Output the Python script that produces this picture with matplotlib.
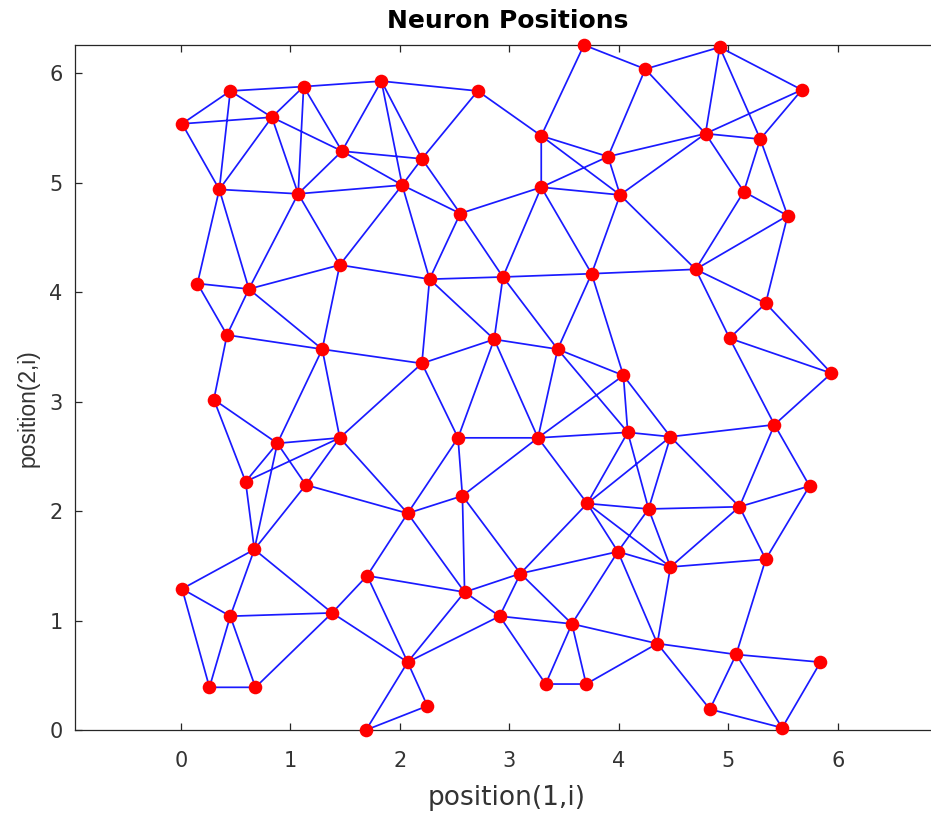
import matplotlib
matplotlib.use("Agg")
import matplotlib.pyplot as plt
import numpy as np

plt.rcParams['font.family'] = ['DejaVu Sans']

# neuron positions (position(1,i), position(2,i))
pos_x = [0.01, 0.45, 1.12, 1.83, 2.71, 0.83, 1.47, 2.20, 0.35, 1.07,
         2.02, 2.55, 3.29, 3.68, 4.24, 4.92, 5.67, 3.90, 4.79, 5.29,
         3.29, 4.01, 5.14, 5.54, 0.15, 0.62, 1.45, 2.27, 2.94, 3.75,
         4.70, 5.34, 5.01, 5.94, 0.42, 1.29, 2.20, 2.86, 3.44, 4.04,
         0.30, 0.88, 1.45, 2.53, 3.26, 4.08, 4.47, 5.42, 0.59, 1.14,
         2.07, 2.57, 3.71, 4.27, 5.10, 5.74, 0.67, 0.01, 0.45, 1.38,
         1.70, 2.59, 3.10, 3.99, 4.47, 5.34, 2.91, 3.57, 4.35, 0.26,
         0.68, 2.07, 2.25, 1.69, 3.33, 3.70, 5.07, 5.84, 4.83, 5.49]
pos_y = [5.54, 5.84, 5.88, 5.93, 5.84, 5.60, 5.29, 5.22, 4.94, 4.90,
         4.98, 4.72, 5.43, 6.26, 6.04, 6.24, 5.85, 5.24, 5.45, 5.40,
         4.96, 4.89, 4.92, 4.70, 4.08, 4.03, 4.25, 4.12, 4.14, 4.17,
         4.21, 3.90, 3.58, 3.26, 3.61, 3.48, 3.35, 3.57, 3.48, 3.24,
         3.02, 2.62, 2.67, 2.67, 2.67, 2.72, 2.68, 2.79, 2.27, 2.24,
         1.98, 2.14, 2.07, 2.02, 2.04, 2.23, 1.65, 1.29, 1.04, 1.07,
         1.41, 1.26, 1.43, 1.63, 1.49, 1.56, 1.04, 0.97, 0.79, 0.39,
         0.39, 0.62, 0.22, 0.00, 0.42, 0.42, 0.69, 0.62, 0.19, 0.02]

# links between neurons (1-based neuron indices)
links_a = [1, 1, 1, 2, 2, 2, 3, 3, 3, 3, 4, 4, 4, 4, 5, 5, 6, 6, 6, 7, 7, 7,
           8, 8, 9, 9, 9, 10, 10, 10, 11, 11, 11, 12, 12, 12, 13, 13, 13, 13,
           14, 15, 15, 15, 16, 16, 16, 17, 17, 18, 18, 18, 19, 19, 19, 20, 20,
           21, 21, 21, 22, 22, 23, 23, 24, 24, 25, 25, 26, 26, 26, 27, 27,
           28, 28, 28, 29, 29, 29, 30, 30, 30, 31, 31, 32, 32, 33, 33, 34,
           35, 35, 36, 36, 36, 37, 37, 37, 38, 38, 38, 39, 39, 39, 40, 40, 40,
           41, 41, 42, 42, 42, 42, 43, 43, 43, 44, 44, 44, 45, 45, 45, 46, 46, 46,
           47, 47, 47, 47, 48, 48, 49, 50, 50, 51, 51, 51, 52, 52,
           53, 53, 53, 53, 54, 54, 54, 55, 55, 55, 56, 57, 57, 57, 58, 58,
           59, 59, 59, 60, 60, 60, 61, 61, 62, 62, 62, 63, 63, 63, 64, 64, 64,
           65, 65, 66, 67, 67, 67, 68, 68, 68, 69, 69, 69, 70, 72, 72, 73, 75,
           77, 77, 77, 78, 79]
links_b = [2, 6, 9, 3, 6, 9, 4, 6, 7, 10, 5, 7, 8, 11, 8, 13, 7, 9, 10, 8, 10, 11,
           11, 12, 10, 25, 26, 11, 26, 27, 12, 27, 28, 21, 28, 29, 14, 18, 21, 22,
           15, 16, 18, 19, 17, 19, 20, 19, 20, 19, 21, 22, 20, 22, 23, 23, 24,
           22, 29, 30, 30, 31, 24, 31, 31, 32, 26, 35, 27, 35, 36, 28, 36,
           29, 37, 38, 30, 38, 39, 31, 39, 40, 32, 33, 33, 34, 34, 48, 48,
           36, 41, 37, 42, 43, 38, 43, 44, 39, 44, 45, 40, 45, 46, 45, 46, 47,
           42, 49, 43, 49, 50, 57, 49, 50, 51, 45, 51, 52, 46, 52, 53, 47, 53, 54,
           48, 53, 54, 55, 55, 56, 57, 51, 57, 52, 61, 62, 62, 63,
           54, 63, 64, 65, 55, 64, 65, 56, 65, 66, 66, 58, 59, 60, 59, 70,
           60, 70, 71, 61, 71, 72, 62, 72, 63, 67, 72, 64, 67, 68, 65, 68, 69,
           66, 69, 77, 68, 72, 75, 69, 75, 76, 76, 77, 79, 71, 73, 74, 74, 76,
           78, 79, 80, 80, 80]

title_text = "Neuron Positions"
xlabel_text = "position(1,i)"
ylabel_text = "position(2,i)"
xticks = [0, 1, 2, 3, 4, 5, 6]
yticks = [0, 1, 2, 3, 4, 5, 6]

W, H = 931, 815
fig = plt.figure(figsize=(W / 100, H / 100), dpi=100)

px_per_unit = 109.5
left_px, top_px, bottom_px = 75, 45, 730
x0 = -0.968
x1 = x0 + (W + 10 - left_px) / px_per_unit
y0, y1 = min(pos_y), max(pos_y)
ax_w = (x1 - x0) * px_per_unit
ax_h = bottom_px - top_px
ax = fig.add_axes([left_px / W, (H - bottom_px) / H, ax_w / W, ax_h / H])

px = np.array(pos_x)
py = np.array(pos_y)
a = np.array(links_a) - 1
b = np.array(links_b) - 1
lx = np.column_stack([px[a], px[b], np.full(len(a), np.nan)]).ravel()
ly = np.column_stack([py[a], py[b], np.full(len(a), np.nan)]).ravel()
ax.plot(lx, ly, color=(0.1, 0.1, 1.0), lw=1.25, solid_capstyle='round', zorder=2)
ax.plot(px, py, 'o', color=(1, 0, 0), markersize=9.8, markeredgewidth=0,
        zorder=3, clip_on=False)

ax.set_xlim(x0, x1)
ax.set_ylim(y0, y1)
ax.set_xticks(xticks)
ax.set_yticks(yticks)
axis_col = (0.15, 0.15, 0.15)
lab_col = (0.2, 0.2, 0.2)
for s in ax.spines.values():
    s.set_color(axis_col)
    s.set_linewidth(0.9)
ax.tick_params(direction='in', length=5, width=0.9, colors=axis_col,
               labelsize=15, top=True, right=True, labelcolor=lab_col)
ax.tick_params(axis='x', pad=15)
ax.tick_params(axis='y', pad=9)
ax.set_title(title_text, fontsize=18, fontweight='bold', pad=12)
ax.set_xlabel(xlabel_text, fontsize=19, color=lab_col, va='center')
ax.xaxis.set_label_coords((507 - left_px) / ax_w, (bottom_px - 798) / ax_h)
ax.set_ylabel(ylabel_text, fontsize=16.5, color=lab_col, va='center',
              family='Liberation Sans')
ax.yaxis.set_label_coords((28 - left_px) / ax_w, (bottom_px - 408) / ax_h)

fig.savefig("out.png", dpi=100)
